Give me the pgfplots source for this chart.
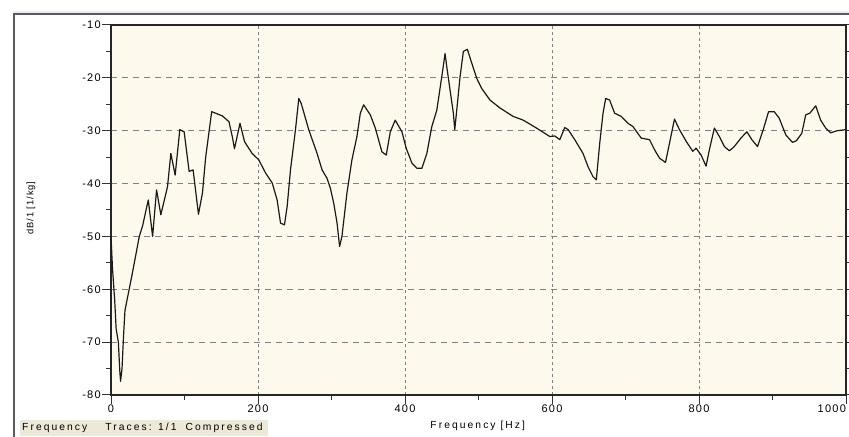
\documentclass[border=0pt]{standalone}
\usepackage{fontspec}
\setmainfont{Liberation Sans}
\newfontfamily\lsfont[LetterSpace=20]{Liberation Sans}
\newfontfamily\lstfont[LetterSpace=12]{Liberation Sans}
\newfontfamily\lsyfont[LetterSpace=10]{Liberation Sans}
\usepackage{pgfplots}
\pgfplotsset{compat=1.18}
\definecolor{plotbg}{RGB}{253,249,237}
\definecolor{statusbg}{RGB}{236,233,216}
\definecolor{topband}{RGB}{232,237,246}
\definecolor{framegray}{RGB}{90,90,90}
\definecolor{gridgray}{RGB}{128,128,128}
\begin{document}
\begin{tikzpicture}[x=1bp,y=1bp]
\fill[white] (0,0) rectangle (849,437);
\fill[topband] (14,423) rectangle (849,426);
\draw[framegray, line width=1.2bp] (14,0) -- (14,423) -- (849,423);
\fill[statusbg] (20,1) rectangle (268,17);
\node[anchor=west, font=\lsfont\fontsize{10.3bp}{12bp}\selectfont, inner sep=0pt] at (22,9) {Frequency\hspace{18bp}Traces: 1/1\hspace{9bp}Compressed};
\begin{axis}[
  at={(111bp,42bp)}, anchor=south west,
  width=735bp, height=370bp, scale only axis,
  xmin=0, xmax=1000, ymin=-80, ymax=-10,
  axis background/.style={fill=plotbg},
  xtick={0,200,400,600,800,1000},
  xticklabels={0,200,400,600,800,\makebox[0pt][r]{1000}},
  ytick={-80,-70,-60,-50,-40,-30,-20,-10},
  yticklabels={-80,-70,-60,-50,-40,-30,-20,-10},
  minor x tick num=1, minor y tick num=1,
  tick align=outside,
  xtick pos=left, ytick pos=both,
  major tick length=9bp, minor tick length=5bp,
  every tick/.style={black!80, line width=1bp},
  axis line style={black!85, line width=1.3bp},
  grid=major,
  x grid style={gridgray, line width=0.9bp, dash pattern=on 3bp off 3bp},
  y grid style={gridgray, line width=0.9bp, dash pattern=on 6bp off 5bp},
  tick label style={font=\lstfont\fontsize{11bp}{12bp}\selectfont},
  xticklabel style={anchor=north, inner sep=0pt, yshift=-1bp},
  yticklabel style={anchor=east, inner sep=0pt, xshift=-1bp},
  xlabel={Frequency [Hz]},
  xlabel style={font=\lsfont\fontsize{10.3bp}{12bp}\selectfont, at={(axis description cs:0.499,-0.084)}, anchor=center, inner sep=0pt},
  ylabel={dB/1 [1/kg]},
  ylabel style={font=\lsyfont\fontsize{9.3bp}{11bp}\selectfont, at={(axis description cs:-0.109,0.505)}, anchor=center, inner sep=0pt},
]
\addplot[black!90, line width=1.2bp, line join=round] coordinates {
(0,-50) (2,-56) (5,-62) (7,-67.5) (10,-70) (12,-75.5) (13,-77.4) (15,-75) (17,-69) (19,-64)
(24,-60.5) (29,-57) (38.5,-50) (43,-48) (50.7,-43.1) (53.4,-46.2) (56.6,-50) (62,-41.2)
(67.8,-45.9) (76.9,-40.6) (81.4,-34.3) (87.3,-38.4) (93.6,-29.8) (99.5,-30.2) (106.3,-37.7)
(111.7,-37.4) (119,-45.8) (124.4,-41.8) (128.9,-34.9) (137,-26.4) (142.5,-26.7) (151.5,-27.2)
(160.5,-28.3) (165,-31.1) (168,-33.4) (175.5,-28.6) (181.8,-32.1) (192,-34.3) (201,-35.5)
(210.3,-38) (219.4,-39.9) (226,-43.1) (230.7,-47.5) (236,-47.8) (239.7,-44.3) (244.2,-37.4)
(251,-29.8) (255.5,-23.9) (258.7,-24.8) (269,-29.8) (280.4,-34.3) (287.1,-37.4) (293.9,-39)
(298.5,-40.9) (303,-43.7) (307.6,-47.5) (311,-51.9) (314.2,-50) (321,-41.8) (327.8,-35.5)
(334.6,-31.1) (339.2,-26.7) (343.7,-25.1) (352.8,-27) (359.6,-29.5) (368.6,-34) (374.5,-34.6)
(380,-30.2) (386.7,-28) (395.8,-30.2) (401.6,-33.3) (409.3,-36.1) (416.1,-37.1) (423,-37.1)
(429.7,-34.3) (436.5,-29.2) (443.3,-26.1) (450,-19.8) (454.5,-15.4) (456.8,-17.9) (461.3,-22.3)
(465.8,-26.7) (467.7,-29.8) (470.4,-26.1) (474.9,-19.8) (479.4,-15.0) (484.8,-14.6) (490.8,-17.2)
(497.6,-20.1) (504.3,-22) (515.6,-24.2) (529.2,-25.7) (547.2,-27.3) (560.8,-28) (578.9,-29.5)
(597,-31.1) (603.8,-31) (610.6,-31.7) (617.4,-29.4) (622,-29.8) (631,-31.7) (642.2,-34.3)
(649,-36.8) (655.8,-38.7) (660.3,-39.3) (664.9,-32.4) (669.4,-26.7) (673,-23.9) (678.4,-24.2)
(685.2,-26.7) (694.3,-27.3) (703.3,-28.6) (710,-29.2) (721.4,-31.4) (732.7,-31.7) (739.5,-33.6)
(746.3,-35.2) (754.4,-36.0) (759.8,-32.4) (766.6,-27.8) (773.4,-29.8) (782.5,-32.0) (791.5,-33.9)
(796,-33.3) (802.8,-34.6) (809.6,-36.7) (814.1,-33.6) (820.9,-29.5) (827.7,-31.1) (834.5,-33.0)
(841.3,-33.8) (848,-33.0) (857,-31.4) (865.1,-30.2) (871.9,-31.7) (879.6,-33.0) (887.4,-29.8)
(894.6,-26.4) (902.3,-26.4) (909,-27.6) (918.1,-30.8) (927.1,-32.2) (932.5,-31.9) (939.8,-30.5)
(945.2,-27.0) (950.6,-26.7) (958.8,-25.3) (965.5,-28.0) (972.3,-29.5) (979.1,-30.4) (988,-30.0)
(1000,-29.8)
};
\end{axis}
\pgfresetboundingbox
\useasboundingbox (0,0) rectangle (849,437);
\end{tikzpicture}
\end{document}
